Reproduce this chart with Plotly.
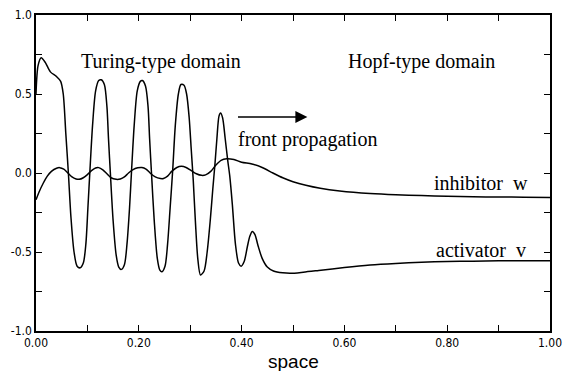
import plotly.graph_objects as go

# Activator v
act_x = [0.000, 0.004, 0.010, 0.018, 0.028, 0.040, 0.048, 0.053, 0.058, 0.063, 0.068, 0.074, 0.080, 0.086,
         0.092, 0.097, 0.101, 0.105, 0.110, 0.116, 0.122, 0.127, 0.133, 0.138, 0.141, 0.145, 0.150, 0.156,
         0.161, 0.166, 0.172, 0.177, 0.182, 0.186, 0.191, 0.197, 0.203, 0.207, 0.213, 0.218, 0.221, 0.225,
         0.230, 0.236, 0.241, 0.245, 0.251, 0.256, 0.261, 0.266, 0.271, 0.277, 0.282, 0.288, 0.293, 0.298,
         0.302, 0.306, 0.310, 0.315, 0.320, 0.327, 0.333, 0.339, 0.344, 0.348, 0.352, 0.356, 0.359, 0.363,
         0.368, 0.373, 0.377, 0.382, 0.388, 0.394, 0.399, 0.405, 0.411, 0.416, 0.421, 0.426, 0.432, 0.440,
         0.450, 0.462, 0.480, 0.495, 0.520, 0.550, 0.600, 0.650, 0.700, 0.750, 0.800, 0.850, 0.900, 0.950, 1.000]
act_v = [0.50, 0.68, 0.73, 0.70, 0.64, 0.61, 0.58, 0.50, 0.25, 0.00, -0.28, -0.50, -0.59, -0.60,
         -0.57, -0.45, -0.22, 0.02, 0.30, 0.52, 0.585, 0.59, 0.56, 0.42, 0.22, -0.02, -0.30, -0.52,
         -0.595, -0.61, -0.58, -0.45, -0.22, 0.02, 0.30, 0.52, 0.58, 0.585, 0.55, 0.42, 0.22, -0.02,
         -0.30, -0.54, -0.615, -0.625, -0.59, -0.45, -0.22, 0.02, 0.30, 0.50, 0.56, 0.555, 0.50, 0.35,
         0.15, -0.05, -0.30, -0.55, -0.645, -0.62, -0.50, -0.30, -0.10, 0.05, 0.22, 0.36, 0.38, 0.35,
         0.22, 0.08, -0.02, -0.20, -0.45, -0.57, -0.59, -0.56, -0.47, -0.40, -0.37, -0.39, -0.46, -0.54,
         -0.595, -0.62, -0.632, -0.635, -0.628, -0.617, -0.598, -0.582, -0.572, -0.565, -0.560, -0.558,
         -0.556, -0.555, -0.555]

# Inhibitor w
inh_x = [0.000, 0.006, 0.014, 0.022, 0.030, 0.040, 0.046, 0.054, 0.062, 0.070, 0.078, 0.084, 0.092, 0.100,
         0.108, 0.116, 0.122, 0.130, 0.138, 0.146, 0.156, 0.164, 0.172, 0.180, 0.188, 0.198, 0.206, 0.214,
         0.222, 0.232, 0.242, 0.248, 0.256, 0.264, 0.274, 0.283, 0.292, 0.302, 0.312, 0.322, 0.330, 0.340,
         0.350, 0.360, 0.371, 0.385, 0.400, 0.420, 0.440, 0.461, 0.480, 0.500, 0.525, 0.553, 0.591, 0.650,
         0.700, 0.750, 0.800, 0.850, 0.900, 0.950, 1.000]
inh_w = [-0.17, -0.12, -0.065, -0.02, 0.01, 0.03, 0.034, 0.025, 0.0, -0.025, -0.038, -0.04, -0.03, -0.01,
         0.015, 0.032, 0.034, 0.02, -0.005, -0.03, -0.04, -0.038, -0.025, 0.0, 0.02, 0.033, 0.035, 0.025,
         0.0, -0.025, -0.035, -0.035, -0.02, 0.01, 0.035, 0.042, 0.035, 0.015, -0.005, -0.015, -0.012, 0.01,
         0.05, 0.08, 0.09, 0.085, 0.068, 0.057, 0.035, 0.0, -0.03, -0.055, -0.078, -0.097, -0.114, -0.13,
         -0.138, -0.143, -0.147, -0.15, -0.152, -0.153, -0.155]

x_ticks = [0.0, 0.1, 0.2, 0.3, 0.4, 0.5, 0.6, 0.7, 0.8, 0.9, 1.0]
x_labels = ["0.00", "", "0.20", "", "0.40", "", "0.60", "", "0.80", "", "1.00"]
y_ticks = [1.0, 0.75, 0.5, 0.25, 0.0, -0.25, -0.5, -0.75, -1.0]
y_labels = ["1.0", "", "0.5", "", "0.0", "", "-0.5", "", "-1.0"]

fig = go.Figure()
fig.add_trace(go.Scatter(x=act_x, y=act_v, mode="lines", line=dict(color="black", width=1.5, shape="spline", smoothing=0.8),
                         name="activator v", showlegend=False))
fig.add_trace(go.Scatter(x=inh_x, y=inh_w, mode="lines", line=dict(color="black", width=1.5, shape="spline", smoothing=0.8),
                         name="inhibitor w", showlegend=False))

tickfont = dict(family="DejaVu Sans Condensed, Liberation Sans Narrow, Arial Narrow, sans-serif", size=12, color="black")
fig.update_xaxes(range=[0, 1], tickvals=x_ticks, ticktext=x_labels, ticks="inside", ticklen=6, tickwidth=1.2,
                 tickcolor="black", showline=True, linecolor="black", linewidth=1.5, mirror="ticks",
                 showgrid=False, zeroline=False, tickfont=tickfont, automargin=False)
fig.update_yaxes(range=[-1, 1], tickvals=y_ticks, ticktext=y_labels, ticks="inside", ticklen=6, tickwidth=1.2,
                 tickcolor="black", showline=True, linecolor="black", linewidth=1.5, mirror="ticks",
                 showgrid=False, zeroline=False, tickfont=tickfont, automargin=False)

serif = dict(family="Liberation Serif, Times New Roman, serif", size=20, color="black")
ann = [
    dict(x=0.243, y=0.705, text="Turing-type domain", showarrow=False, font=serif, xanchor="center", yanchor="middle"),
    dict(x=0.75, y=0.705, text="Hopf-type domain", showarrow=False, font=serif, xanchor="center", yanchor="middle"),
    dict(x=0.39, y=0.21, text="front propagation", showarrow=False, font=serif, xanchor="left", yanchor="middle"),
    dict(x=0.962, y=-0.065, text="inhibitor  w", showarrow=False, font=serif, xanchor="right", yanchor="middle"),
    dict(x=0.958, y=-0.487, text="activator  v", showarrow=False, font=serif, xanchor="right", yanchor="middle"),
    dict(x=0.528, y=0.354, ax=0.39, ay=0.354, xref="x", yref="y", axref="x", ayref="y", text="",
         showarrow=True, arrowhead=2, arrowsize=1.6, arrowwidth=1.5, arrowcolor="black"),
    dict(x=0.5, y=-0.098, xref="paper", yref="paper", text="space", showarrow=False,
         font=dict(family="Liberation Sans, Arial, sans-serif", size=19, color="black"),
         xanchor="center", yanchor="middle"),
]
fig.update_layout(annotations=ann, width=567, height=371, margin=dict(l=36, r=17, t=15, b=40),
                  plot_bgcolor="white", paper_bgcolor="white")
fig.write_html("out.html")
